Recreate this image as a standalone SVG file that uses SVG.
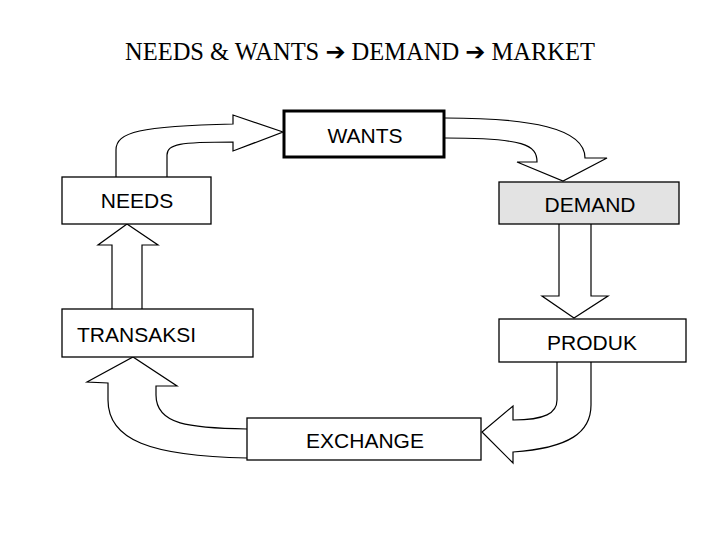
<svg xmlns="http://www.w3.org/2000/svg" width="720" height="540" viewBox="0 0 720 540">
<style>
.box{fill:#fff;stroke:#000;stroke-width:1.3}
.lbl{font-family:"Liberation Sans",Arial,sans-serif;font-size:21px;fill:#000}
.arr{fill:#fff;stroke:#000;stroke-width:1.2;stroke-linejoin:miter}
.title{font-family:"Liberation Serif","Times New Roman",serif;font-size:24.5px;fill:#000}
.sym{font-family:"DejaVu Sans",sans-serif;font-weight:bold;font-size:24px}
</style>
<rect width="720" height="540" fill="#fff"/>
<text class="title" x="360" y="60" text-anchor="middle">NEEDS &amp; WANTS <tspan class="sym">➔</tspan> DEMAND <tspan class="sym">➔</tspan> MARKET</text>
<g id="connectors">
<path class="arr" d="M116,177 L116,150 C116,132 140,126 233,124 L233,115 L283,132 L233,151 L233,142 C180,142 167,144 167,155 L167,177"/>
<path class="arr" d="M445,118 C530,118 585,128 585,158 L607,158 L563,181 L517,162 L537,162 C537,145 525,138 445,138"/>
<path class="arr" d="M559,224 L559,296 L542,296 L574,318 L608,296 L591,296 L591,224"/>
<path class="arr" d="M112,309 L112,245 L98,245 L127,224 L158,245 L142,245 L142,309"/>
<path class="arr" d="M247,429 C190,428 156,425 156,395 L156,386 L177,386 L133,357 L87,382 L108,383 L108,400 C108,440 150,456 247,458"/>
<path class="arr" d="M557,362 L557,400 C557,413 545,420 513,420 L513,406 L482,432 L513,463 L513,452 C570,448 591,432 591,405 L591,362"/>
</g>
<g id="wants">
<rect x="284" y="111" width="160" height="46" fill="#fff" stroke="#000" stroke-width="3"/>
<text class="lbl" x="365" y="143" text-anchor="middle">WANTS</text>
</g>
<g id="needs">
<rect class="box" x="62" y="177" width="149" height="47"/>
<text class="lbl" x="137" y="208" text-anchor="middle">NEEDS</text>
</g>
<g id="demand">
<rect class="box" x="499" y="182" width="180" height="42" style="fill:#e3e3e3"/>
<text class="lbl" x="590" y="212" text-anchor="middle">DEMAND</text>
</g>
<g id="transaksi">
<rect class="box" x="62" y="309" width="191" height="48"/>
<text class="lbl" x="77" y="342">TRANSAKSI</text>
</g>
<g id="produk">
<rect class="box" x="499" y="319" width="187" height="43"/>
<text class="lbl" x="592" y="350" text-anchor="middle">PRODUK</text>
</g>
<g id="exchange">
<rect class="box" x="247" y="418" width="234" height="42"/>
<text class="lbl" x="365" y="448" text-anchor="middle">EXCHANGE</text>
</g>
</svg>
